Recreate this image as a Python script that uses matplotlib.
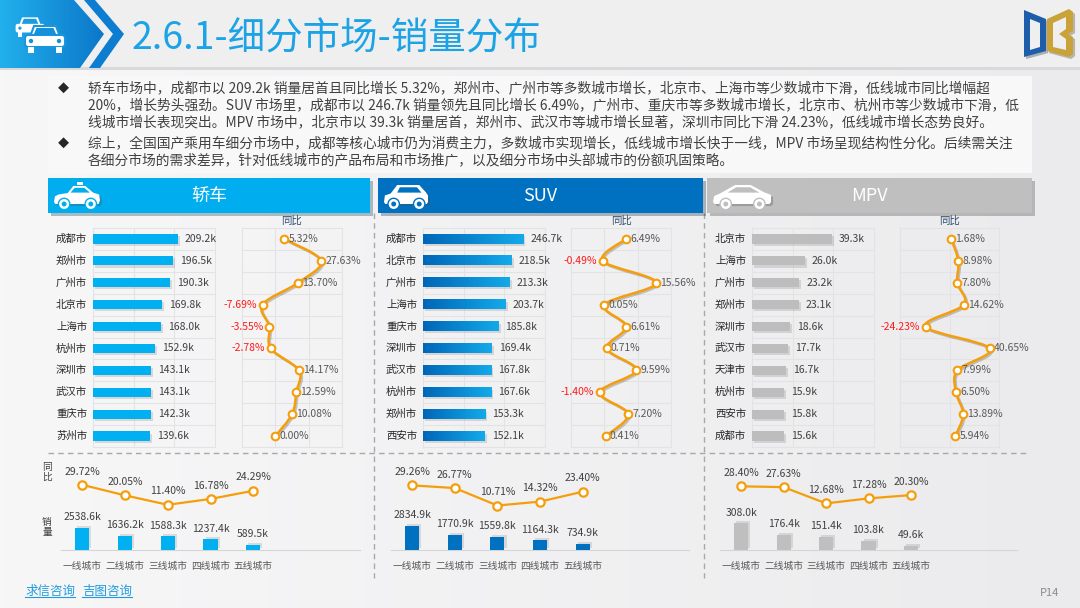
import matplotlib
matplotlib.use('Agg')
import matplotlib.pyplot as plt
import matplotlib.patheffects as pe
from matplotlib.patches import Polygon, Rectangle, Circle, FancyBboxPatch, PathPatch
from matplotlib.path import Path
from matplotlib.colors import LinearSegmentedColormap
import numpy as np

plt.rcParams['font.family'] = ['Noto Sans CJK SC', 'DejaVu Sans']

# 数据：城市销量（k）与同比（%）
sedan_cities = ['成都市', '郑州市', '广州市', '北京市', '上海市', '杭州市', '深圳市', '武汉市', '重庆市', '苏州市']
sedan_sales = [209.2, 196.5, 190.3, 169.8, 168.0, 152.9, 143.1, 143.1, 142.3, 139.6]
sedan_yoy = [5.32, 27.63, 13.70, -7.69, -3.55, -2.78, 14.17, 12.59, 10.08, 0.00]

suv_cities = ['成都市', '北京市', '广州市', '上海市', '重庆市', '深圳市', '武汉市', '杭州市', '郑州市', '西安市']
suv_sales = [246.7, 218.5, 213.3, 203.7, 185.8, 169.4, 167.8, 167.6, 153.3, 152.1]
suv_yoy = [6.49, -0.49, 15.56, 0.05, 6.61, 0.71, 9.59, -1.40, 7.20, 0.41]

mpv_cities = ['北京市', '上海市', '广州市', '郑州市', '深圳市', '武汉市', '天津市', '杭州市', '西安市', '成都市']
mpv_sales = [39.3, 26.0, 23.2, 23.1, 18.6, 17.7, 16.7, 15.9, 15.8, 15.6]
mpv_yoy = [1.68, 8.98, 7.80, 14.62, -24.23, 40.65, 7.99, 6.50, 13.89, 5.94]

tiers = ['一线城市', '二线城市', '三线城市', '四线城市', '五线城市']
sedan_tier_sales = [2538.6, 1636.2, 1588.3, 1237.4, 589.5]
sedan_tier_yoy = [29.72, 20.05, 11.40, 16.78, 24.29]
suv_tier_sales = [2834.9, 1770.9, 1559.8, 1164.3, 734.9]
suv_tier_yoy = [29.26, 26.77, 10.71, 14.32, 23.40]
mpv_tier_sales = [308.0, 176.4, 151.4, 103.8, 49.6]
mpv_tier_yoy = [28.40, 27.63, 12.68, 17.28, 20.30]

body_lines = [
    '轿车市场中，成都市以 209.2k 销量居首且同比增长 5.32%，郑州市、广州市等多数城市增长，北京市、上海市等少数城市下滑，低线城市同比增幅超',
    '20%，增长势头强劲。SUV 市场里，成都市以 246.7k 销量领先且同比增长 6.49%，广州市、重庆市等多数城市增长，北京市、杭州市等少数城市下滑，低',
    '线城市增长表现突出。MPV 市场中，北京市以 39.3k 销量居首，郑州市、武汉市等城市增长显著，深圳市同比下滑 24.23%，低线城市增长态势良好。',
    '综上，全国国产乘用车细分市场中，成都等核心城市仍为消费主力，多数城市实现增长，低线城市增长快于一线，MPV 市场呈现结构性分化。后续需关注',
    '各细分市场的需求差异，针对低线城市的产品布局和市场推广，以及细分市场中头部城市的份额巩固策略。',
]

W, H = 1080, 608
ORANGE = '#F59E0B'
GRID = '#E3E3E5'
TXT = '#404040'

fig = plt.figure(figsize=(10.8, 6.08), dpi=100, facecolor='#F1F1F2')
bg = fig.add_axes([0, 0, 1, 1])
bg.axis('off')


def px_axes(x0, y0, x1, y1):
    ax = fig.add_axes([x0 / W, 1 - y1 / H, (x1 - x0) / W, (y1 - y0) / H])
    ax.patch.set_alpha(0)
    return ax


# 背景
g = np.linspace(0, 1, 256).reshape(1, -1)
bg.imshow(g, extent=[0, W, H, 0], aspect='auto', zorder=0,
          cmap=LinearSegmentedColormap.from_list('bgc', ['#F7F7F8', '#EBEBED']))
bg.set_xlim(0, W)
bg.set_ylim(H, 0)
bg.add_patch(Rectangle((0, 0), W, 67, fc='#EFEFF0', ec='none', zorder=1))
bg.add_patch(Rectangle((0, 67), W, 3, fc='#D9D9DB', ec='none', zorder=1))

# 左上角蓝色色块
hdr = Polygon([(0, 0), (74, 0), (104, 34), (80, 68), (0, 68)], closed=True, fc='none', ec='none', zorder=2)
bg.add_patch(hdr)
im = bg.imshow(g, extent=[0, 110, 68, 0], aspect='auto', zorder=2,
               cmap=LinearSegmentedColormap.from_list('hd', ['#22B0EC', '#0A74C8']))
im.set_clip_path(hdr)
bg.add_patch(Polygon([(84, 0), (95, 0), (124, 34), (100, 68), (89, 68), (113, 34)], fc='#0C7DD0', ec='none', zorder=2))
bg.set_xlim(0, W)
bg.set_ylim(H, 0)


def front_car(cx, cy, s, win, edge=None):
    z = 3
    kw = dict(fc='white', ec=edge if edge else 'none', lw=1.5 if edge else 0, zorder=z)
    bg.add_patch(Polygon([(cx - 15 * s, cy - 1 * s), (cx - 11 * s, cy - 12 * s), (cx + 11 * s, cy - 12 * s),
                          (cx + 15 * s, cy - 1 * s)], **kw))
    bg.add_patch(FancyBboxPatch((cx - 20 * s, cy - 3 * s), 40 * s, 12 * s,
                                boxstyle='round,pad=0,rounding_size=%f' % (3 * s), **kw))
    bg.add_patch(Polygon([(cx - 11.5 * s, cy - 3 * s), (cx - 8.5 * s, cy - 10 * s), (cx + 8.5 * s, cy - 10 * s),
                          (cx + 11.5 * s, cy - 3 * s)], fc=win, ec='none', zorder=z))
    for dx in (-17, 11):
        bg.add_patch(Rectangle((cx + dx * s, cy + 9 * s), 6 * s, 6 * s, fc='white', ec='none', zorder=z))
    for dx in (-14, 14):
        bg.add_patch(Circle((cx + dx * s, cy + 3 * s), 2.2 * s, fc=win, ec='none', zorder=z))


front_car(30, 26, 0.72, '#1C9BE0')
front_car(45, 38, 1.0, '#1590DA', edge='#1A96DC')

bg.text(132, 39, '2.6.1-细分市场-销量分布', fontsize=27, color='#1CA3E6', ha='left', va='center', zorder=3)

# 右上角标志
bg.add_patch(Polygon([(1024, 10), (1046, 19), (1046, 51), (1024, 57)], fc='#1D5DAA', ec='none', zorder=3,
                     path_effects=[pe.SimplePatchShadow(offset=(1.5, -1.5), alpha=0.3), pe.Normal()]))
bg.add_patch(Polygon([(1030, 19), (1040, 23), (1040, 47), (1030, 50)], fc='#EFEFF0', ec='none', zorder=3))
bg.add_patch(Polygon([(1047, 19), (1069, 9), (1073, 12), (1073, 31), (1068, 34), (1073, 37), (1073, 54),
                      (1069, 57), (1047, 51)], fc='#C9A23A', ec='none', zorder=3,
                     path_effects=[pe.SimplePatchShadow(offset=(1.5, -1.5), alpha=0.3), pe.Normal()]))
bg.add_patch(Polygon([(1053, 23), (1066, 17), (1066, 29), (1059, 34), (1066, 39), (1066, 50), (1053, 47)],
                     fc='#EFEFF0', ec='none', zorder=3))

# 文字说明
bg.add_patch(Rectangle((48, 76), 984, 97, fc='#F8F8F9', ec='none', zorder=1))
line_y = [88, 105, 122, 143, 160]
for yy, s in zip(line_y, body_lines):
    bg.text(88, yy, s, fontsize=9.9, color=TXT, ha='left', va='center', zorder=3)
for yy in (88, 143):
    bg.text(63, yy, '◆', fontsize=8, color='#262626', ha='center', va='center', zorder=3)

# 面板标题
panel_hdr = [(48, 178, 322, '#00AEEF', '轿车', 'sedan'),
             (378, 178, 325, '#0070C0', 'SUV', 'suv'),
             (707, 178, 325, '#BFBFBF', 'MPV', 'mpv')]


def side_car(x0, yb, w, h, kind, bgc):
    prof = {
        'sedan': [(0, 0.1), (0.02, 0.4), (0.1, 0.5), (0.3, 0.58), (0.42, 0.95), (0.68, 0.95), (0.85, 0.6),
                  (0.98, 0.5), (1, 0.2), (0.97, 0), (0.03, 0)],
        'suv': [(0, 0.1), (0.02, 0.45), (0.15, 0.55), (0.3, 1.0), (0.8, 1.0), (0.95, 0.62), (1, 0.45),
                (1, 0.1), (0.97, 0), (0.03, 0)],
        'mpv': [(0, 0.1), (0.02, 0.42), (0.12, 0.55), (0.38, 1.0), (0.65, 1.0), (0.88, 0.62), (1, 0.48),
                (1, 0.1), (0.97, 0), (0.03, 0)],
    }[kind]
    pts = [(x0 + a * w, yb - b * h) for a, b in prof]
    bg.add_patch(Polygon(pts, fc='white', ec='none', zorder=4,
                         path_effects=[pe.SimplePatchShadow(offset=(1.5, -1.5), alpha=0.3), pe.Normal()]))
    if kind == 'sedan':
        win = [(0.36, 0.6), (0.45, 0.85), (0.66, 0.85), (0.78, 0.6)]
        bg.add_patch(Rectangle((x0 + 0.5 * w, yb - 1.18 * h), 0.12 * w, 0.2 * h, fc='white', ec='none', zorder=4))
    elif kind == 'suv':
        win = [(0.3, 0.6), (0.36, 0.88), (0.75, 0.88), (0.85, 0.6)]
    else:
        win = [(0.25, 0.6), (0.4, 0.88), (0.64, 0.88), (0.8, 0.6)]
    bg.add_patch(Polygon([(x0 + a * w, yb - b * h) for a, b in win], fc=bgc, ec='none', zorder=4))
    for a in (0.22, 0.8):
        bg.add_patch(Circle((x0 + a * w, yb), 0.3 * h, fc='white', ec=bgc, lw=1, zorder=5))
        bg.add_patch(Circle((x0 + a * w, yb), 0.13 * h, fc=bgc, ec='none', zorder=5))


for (x0, y0, w, c, name, kind), cw in zip(panel_hdr, (46, 44, 58)):
    bg.add_patch(Rectangle((x0, y0), w, 35, fc=c, ec='none', zorder=3,
                           path_effects=[pe.SimplePatchShadow(offset=(2, -2), alpha=0.3), pe.Normal()]))
    bg.text(x0 + w / 2, y0 + 18, name, fontsize=13, color='white', ha='center', va='center', zorder=4)
    side_car(x0 + 6, y0 + 26, cw, 19, kind, c)

# 虚线分隔
dash = dict(color='#A8A8A8', lw=1, ls=(0, (4, 3)), zorder=2)
bg.plot([48, 1030], [453, 453], **dash)
bg.plot([374, 374], [213, 578], **dash)
bg.plot([704, 704], [213, 578], **dash)

shadow = [pe.SimplePatchShadow(offset=(1.5, -1.5), shadow_rgbFace='#8C8C8C', alpha=0.28), pe.Normal()]
suv_cmap = LinearSegmentedColormap.from_list('suv', ['#0066B8', '#13AAEA'])


def smooth_path(xs, ys, t=1 / 6):
    P = np.column_stack([xs, ys]).astype(float)
    n = len(P)
    verts, codes = [P[0]], [Path.MOVETO]
    for i in range(n - 1):
        p0, p1, p2, p3 = P[max(i - 1, 0)], P[i], P[i + 1], P[min(i + 2, n - 1)]
        verts += [p1 + (p2 - p0) * t, p2 - (p3 - p1) * t, p2]
        codes += [Path.CURVE4] * 3
    return Path(verts, codes)


def city_panel(cities, sales, yoy, bar_x, yoy_x, label_x, xmax, xgrid, ylim, ygrid, color):
    rows = np.arange(len(cities))
    ax = px_axes(bar_x[0], 228, bar_x[1], 447)
    bars = ax.barh(rows, sales, height=0.42, color=color if color != 'grad' else '#0A80CC',
                   path_effects=shadow, zorder=3)
    if color == 'grad':
        for b, v in zip(bars, sales):
            ax.imshow(g, extent=[0, v, b.get_y() + b.get_height(), b.get_y()], cmap=suv_cmap,
                      aspect='auto', zorder=4)
    ax.set_xlim(0, xmax)
    ax.set_ylim(len(cities) - 0.5, -0.5)
    for v in xgrid:
        ax.axvline(v, color=GRID, lw=0.8, zorder=0)
    for r in rows[:-1] + 0.5:
        ax.axhline(r, color=GRID, lw=0.8, zorder=0)
    for sp in ax.spines.values():
        sp.set_color(GRID)
        sp.set_linewidth(0.8)
    ax.set_xticks([])
    ax.set_yticks([])
    for i, (c, v) in enumerate(zip(cities, sales)):
        ax.annotate(f'{v:.1f}k', xy=(v, i), xytext=(5, 0), textcoords='offset points',
                    ha='left', va='center', fontsize=7.5, color=TXT, zorder=5)
        ax.annotate(c, xy=(0, i), xycoords=('axes fraction', 'data'), xytext=(label_x - bar_x[0], 0),
                    textcoords='offset pixels', ha='left', va='center', fontsize=7.5, color='#262626',
                    annotation_clip=False)

    ax2 = px_axes(yoy_x[0], 228, yoy_x[1], 447)
    ax2.set_xlim(*ylim)
    ax2.set_ylim(len(cities) - 0.5, -0.5)
    for v in ygrid:
        ax2.axvline(v, color=GRID, lw=0.8, zorder=0)
    for r in rows[:-1] + 0.5:
        ax2.axhline(r, color=GRID, lw=0.8, zorder=0)
    for sp in ax2.spines.values():
        sp.set_color(GRID)
        sp.set_linewidth(0.8)
    ax2.set_xticks([])
    ax2.set_yticks([])
    ax2.add_patch(PathPatch(smooth_path(yoy, rows), fc='none', ec=ORANGE, lw=1.8, zorder=3,
                            path_effects=[pe.SimpleLineShadow(offset=(1, -1), alpha=0.2), pe.Normal()]))
    ax2.plot(yoy, rows, ls='none', marker='o', ms=5.5, mfc='white', mec=ORANGE, mew=1.5, zorder=4,
             clip_on=False)
    for i, v in enumerate(yoy):
        if v < 0:
            ax2.annotate(f'{v:.2f}%', xy=(v, i), xytext=(-4, 0), textcoords='offset points', ha='right',
                         va='center', fontsize=7.5, color='#FF1A1A', annotation_clip=False)
        else:
            ax2.annotate(f'{v:.2f}%', xy=(v, i), xytext=(3, 0), textcoords='offset points', ha='left',
                         va='center', fontsize=7.5, color='#595959', annotation_clip=False)
    ax2.text(0.5, 1.012, '同比', transform=ax2.transAxes, ha='center', va='bottom', fontsize=7.5,
             color='#2E4A6B')


def tier_panel(sales, yoy, x0, x1, ymax, color):
    xs = np.arange(len(tiers))
    axb = px_axes(x0, 460, x1, 550)
    axb.bar(xs, sales, width=0.33, color=color, zorder=3,
            path_effects=[pe.SimplePatchShadow(offset=(1.5, 1.5), shadow_rgbFace='#8C8C8C', alpha=0.25),
                          pe.Normal()])
    axb.set_xlim(-0.5, 6.5)
    axb.set_ylim(0, ymax)
    for k in ('top', 'left', 'right'):
        axb.spines[k].set_visible(False)
    axb.spines['bottom'].set_color('#D5D5D7')
    axb.set_yticks([])
    axb.set_xticks(xs, tiers)
    axb.tick_params(axis='x', length=0, pad=8, labelsize=7, labelcolor='#595959')
    for x, v in zip(xs, sales):
        axb.annotate(f'{v:.1f}k', xy=(x, v), xytext=(0, 4), textcoords='offset points', ha='center',
                     va='bottom', fontsize=7.5, color=TXT)
    axl = px_axes(x0, 465, x1, 515)
    axl.set_xlim(-0.5, 6.5)
    axl.set_ylim(2, 48)
    axl.axis('off')
    axl.plot(xs, yoy, color=ORANGE, lw=1.6, marker='o', ms=6, mfc='white', mec=ORANGE, mew=1.6)
    for x, v in zip(xs, yoy):
        axl.annotate(f'{v:.2f}%', xy=(x, v), xytext=(0, 6), textcoords='offset points', ha='center',
                     va='bottom', fontsize=7.5, color=TXT, annotation_clip=False)


city_panel(sedan_cities, sedan_sales, sedan_yoy, (93, 215), (242, 342), 56, 300, [100, 200], (-20, 40),
           [0, 20], '#00B0F0')
city_panel(suv_cities, suv_sales, suv_yoy, (423, 545), (571, 671), 386, 300, [100, 200], (-10, 20),
           [0, 10], 'grad')
city_panel(mpv_cities, mpv_sales, mpv_yoy, (752, 874), (900, 999), 715, 60, [20, 40], (-50, 50),
           [0], '#BDBDBD')

tier_panel(sedan_tier_sales, sedan_tier_yoy, 61, 360, 10400, '#00B0F0')
tier_panel(suv_tier_sales, suv_tier_yoy, 391, 689, 10600, '#0070C0')
tier_panel(mpv_tier_sales, mpv_tier_yoy, 720, 1017, 1030, '#BFBFBF')

bg.text(47, 472, '同\n比', fontsize=7, color='#404040', ha='center', va='center', linespacing=0.95, zorder=3)
bg.text(47, 527, '销\n量', fontsize=7, color='#404040', ha='center', va='center', linespacing=0.95, zorder=3)

# 页脚
links = [bg.text(25, 591, '求信咨询', fontsize=9, color='#1E9BDF', ha='left', va='center', zorder=3),
         bg.text(82, 591, '吉图咨询', fontsize=9, color='#1E9BDF', ha='left', va='center', zorder=3)]
bg.text(1040, 593, 'P14', fontsize=8, color='#8C8C8C', ha='left', va='center', zorder=3)
fig.canvas.draw()
r = fig.canvas.get_renderer()
inv = bg.transData.inverted()
for t in links:
    bb = t.get_window_extent(r)
    (a, yb), (b, _) = inv.transform([(bb.x0, bb.y0), (bb.x1, bb.y1)])
    bg.plot([a, b], [yb - 1, yb - 1], color='#1E9BDF', lw=0.8, zorder=3)

fig.savefig('out.png', dpi=100, facecolor=fig.get_facecolor())
